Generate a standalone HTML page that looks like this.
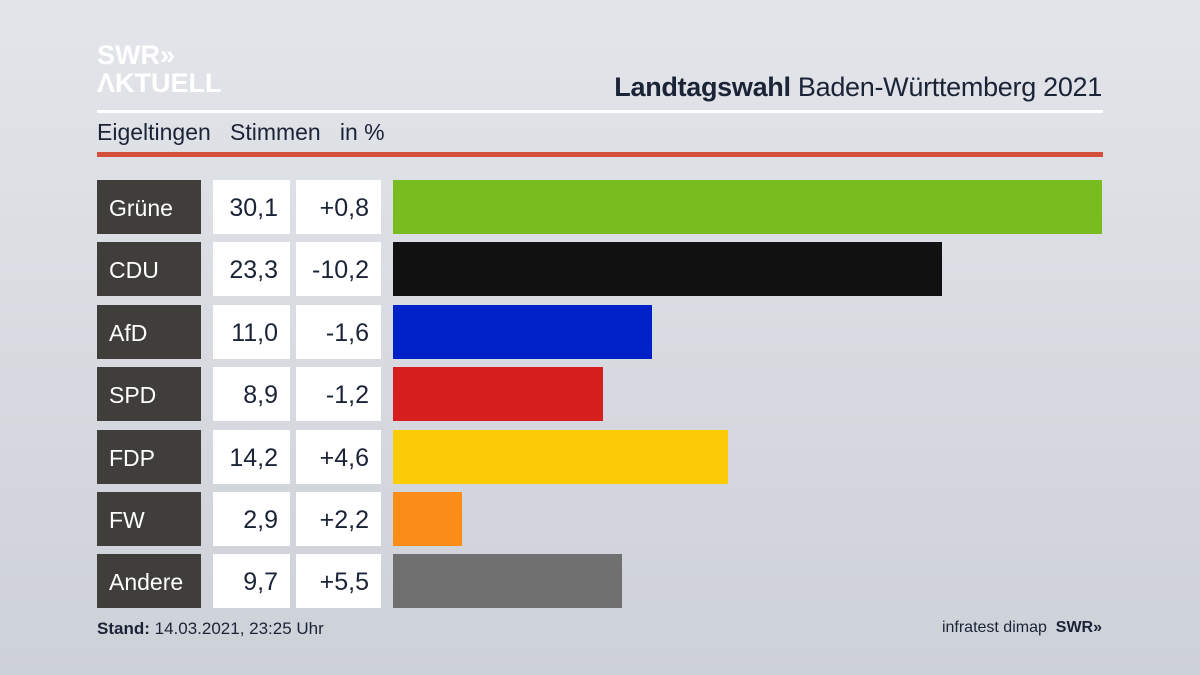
<!DOCTYPE html>
<html><head><meta charset="utf-8"><style>
body{margin:0;width:1200px;height:675px;overflow:hidden;background:linear-gradient(180deg,#e3e5ea 0%,#d6d9df 60%,#cdd1d8 100%);font-family:"Liberation Sans",sans-serif;position:relative;color:#1b2337}
.a{position:absolute}
.lab{position:absolute;left:97px;width:104px;height:54px;background:#3f3e3b;color:#fff;font-size:23px;line-height:56px;box-sizing:border-box;padding-left:12px}
.v{position:absolute;left:213px;width:77px;height:54px;background:#fff;font-size:25px;line-height:56px;text-align:right;box-sizing:border-box;padding-right:12px}
.d{position:absolute;left:296px;width:85px;height:54px;background:#fff;font-size:25px;line-height:56px;text-align:right;box-sizing:border-box;padding-right:12px}
.b{position:absolute;left:393px;height:54px}
</style></head><body>
<div class="a" style="left:97px;top:41px;color:#fff;font-weight:bold;font-size:27px;line-height:28px">SWR»<br>ΛKTUELL</div>
<div class="a" style="right:98px;top:72px;font-size:27px;letter-spacing:-0.3px"><b>Landtagswahl</b> Baden-Württemberg 2021</div>
<div class="a" style="left:97px;top:110px;width:1006px;height:3px;background:#fff"></div>
<div class="a" style="left:97px;top:119px;font-size:23px">Eigeltingen&nbsp;&nbsp; Stimmen&nbsp;&nbsp; in&nbsp;%</div>
<div class="a" style="left:97px;top:152px;width:1006px;height:5px;background:#d4503a"></div>

<div class="lab" style="top:180px">Grüne</div><div class="v" style="top:180px">30,1</div><div class="d" style="top:180px">+0,8</div><div class="b" style="top:180px;width:709px;background:#78bc1f"></div>
<div class="lab" style="top:242px">CDU</div><div class="v" style="top:242px">23,3</div><div class="d" style="top:242px">-10,2</div><div class="b" style="top:242px;width:549px;background:#111"></div>
<div class="lab" style="top:305px">AfD</div><div class="v" style="top:305px">11,0</div><div class="d" style="top:305px">-1,6</div><div class="b" style="top:305px;width:259px;background:#0021c8"></div>
<div class="lab" style="top:367px">SPD</div><div class="v" style="top:367px">8,9</div><div class="d" style="top:367px">-1,2</div><div class="b" style="top:367px;width:210px;background:#d71f1f"></div>
<div class="lab" style="top:430px">FDP</div><div class="v" style="top:430px">14,2</div><div class="d" style="top:430px">+4,6</div><div class="b" style="top:430px;width:335px;background:#fccd06"></div>
<div class="lab" style="top:492px">FW</div><div class="v" style="top:492px">2,9</div><div class="d" style="top:492px">+2,2</div><div class="b" style="top:492px;width:69px;background:#fa8c18"></div>
<div class="lab" style="top:554px">Andere</div><div class="v" style="top:554px">9,7</div><div class="d" style="top:554px">+5,5</div><div class="b" style="top:554px;width:229px;background:#707071"></div>

<div class="a" style="left:97px;top:619px;font-size:17px"><b>Stand:</b> 14.03.2021, 23:25 Uhr</div>
<div class="a" style="right:98px;top:619px;font-size:16px">infratest dimap&nbsp; <b>SWR»</b></div>
</body></html>
